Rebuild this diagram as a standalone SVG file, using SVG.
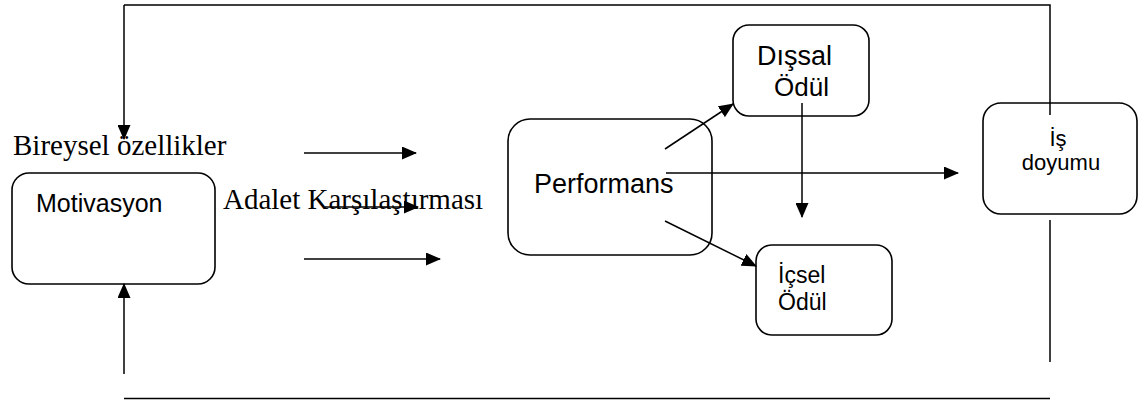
<svg xmlns="http://www.w3.org/2000/svg" width="1145" height="400" viewBox="0 0 1145 400">
  <defs>
    <marker id="arrow" markerUnits="userSpaceOnUse" markerWidth="15" markerHeight="13" refX="14" refY="6.5" orient="auto">
      <path d="M0,0 L15,6.5 L0,13 Z" fill="#000"/>
    </marker>
  </defs>
  <style>
    .box { fill: #fff; stroke: #000; stroke-width: 1.6; }
    .lbl { font-family: "Liberation Sans", Arial, sans-serif; fill: #000; }
    .ser { font-family: "Liberation Serif", "Times New Roman", serif; fill: #000; }
    .ln { stroke: #000; stroke-width: 1.5; fill: none; }
    .ar { stroke: #000; stroke-width: 1.5; fill: none; marker-end: url(#arrow); }
  </style>

  <rect width="1145" height="400" fill="#fff"/>

  <!-- free-standing labels -->
  <text class="ser" x="13" y="155" font-size="29">Bireysel özellikler</text>
  <text class="ser" x="223" y="209" font-size="29">Adalet Karşılaştırması</text>

  <g id="motivasyon">
    <rect class="box" x="12" y="173" width="203" height="111" rx="17"/>
    <text class="lbl" x="36" y="212" font-size="25">Motivasyon</text>
  </g>

  <g id="performans">
    <rect class="box" x="508" y="119" width="204" height="136" rx="22"/>
    <text class="lbl" x="534" y="193" font-size="27">Performans</text>
  </g>

  <g id="dissal-odul">
    <rect class="box" x="733" y="25" width="136" height="91" rx="16"/>
    <text class="lbl" x="757" y="65" font-size="27">Dışsal</text>
    <text class="lbl" x="774" y="96" font-size="26">Ödül</text>
  </g>

  <g id="icsel-odul">
    <rect class="box" x="756" y="245" width="136" height="90" rx="16"/>
    <text class="lbl" x="778" y="283" font-size="23">İçsel</text>
    <text class="lbl" x="778" y="310" font-size="23">Ödül</text>
  </g>

  <g id="is-doyumu">
    <rect class="box" x="983" y="103" width="154" height="111" rx="18"/>
    <text class="lbl" x="1058" y="146" font-size="22" text-anchor="middle">İş</text>
    <text class="lbl" x="1061" y="170" font-size="22" text-anchor="middle">doyumu</text>
  </g>

  <g id="connectors">
    <!-- feedback loop along the top -->
    <polyline class="ln" points="1050,115 1050,5 124,5"/>
    <line class="ar" x1="124" y1="5" x2="124" y2="139"/>
    <!-- feedback loop along the bottom -->
    <line class="ln" x1="1050" y1="220" x2="1050" y2="362"/>
    <line class="ln" x1="124" y1="398.5" x2="1050" y2="398.5"/>
    <line class="ar" x1="124" y1="374" x2="124" y2="284"/>
    <!-- inputs towards performance -->
    <line class="ar" x1="304" y1="153" x2="416" y2="153"/>
    <line class="ar" x1="325" y1="207" x2="418" y2="207"/>
    <line class="ar" x1="304" y1="259" x2="440" y2="259"/>
    <!-- performance outputs -->
    <line class="ar" x1="665" y1="149" x2="733" y2="104"/>
    <line class="ar" x1="665" y1="221" x2="756" y2="266"/>
    <line class="ar" x1="666" y1="173" x2="958" y2="173"/>
    <line class="ar" x1="802" y1="103" x2="802" y2="217"/>
  </g>
</svg>
